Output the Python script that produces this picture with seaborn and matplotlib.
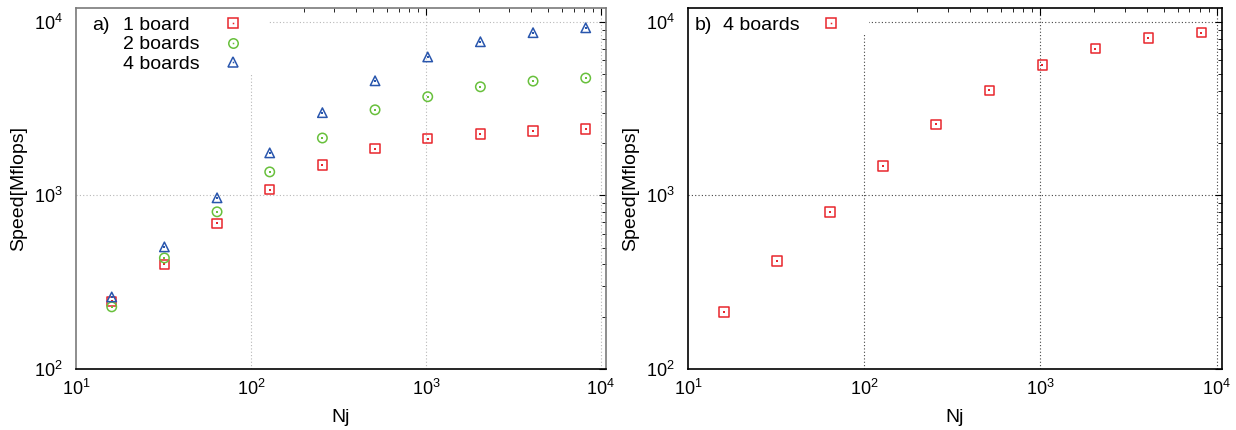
import numpy as np
import pandas as pd
import matplotlib
matplotlib.use("Agg")
import matplotlib.pyplot as plt
from matplotlib.lines import Line2D
from matplotlib.patches import Rectangle
import seaborn as sns

# Data (Nj = 16 ... 8192)
nj = [16, 32, 64, 128, 256, 512, 1024, 2048, 4096, 8192]
speed_1board = [245, 400, 690, 1080, 1500, 1855, 2120, 2260, 2350, 2410]
speed_2boards = [228, 436, 804, 1365, 2140, 3110, 3700, 4220, 4550, 4740]
speed_4boards = [260, 505, 968, 1757, 2995, 4570, 6270, 7670, 8650, 9230]
speed_b = [213, 419, 804, 1480, 2560, 4020, 5620, 7010, 8050, 8670]

labels_a = ["1 board", "2 boards", "4 boards"]
label_b = "4 boards"

RED = "#e8262c"
GREEN = "#68c03c"
BLUE = "#2956ad"

sns.set_theme(style="white")
plt.rcParams["font.family"] = ["Liberation Sans", "DejaVu Sans"]
plt.rcParams["mathtext.fontset"] = "custom"
plt.rcParams["mathtext.rm"] = "Liberation Sans"
plt.rcParams["mathtext.it"] = "Liberation Sans"
plt.rcParams["text.color"] = "black"
plt.rcParams["axes.labelcolor"] = "black"

df_a = pd.DataFrame({
    "Nj": nj * 3,
    "speed": speed_1board + speed_2boards + speed_4boards,
    "boards": np.repeat(labels_a, len(nj)),
})
df_b = pd.DataFrame({"Nj": nj, "speed": speed_b})

fig = plt.figure(figsize=(12.36, 4.3), dpi=100)
ax1 = fig.add_axes([0.0615, 0.1419, 0.4288, 0.8395])
ax2 = fig.add_axes([0.5566, 0.1419, 0.432, 0.8395])

MS = 6.8
FS = 14


def points(ax, d, color, marker):
    sns.scatterplot(data=d, x="Nj", y="speed", ax=ax, marker=marker, s=MS ** 2,
                    facecolors="none", edgecolor=color, color=color, linewidth=1.1,
                    zorder=3, legend=False)
    # gnuplot symbols carry a small dot in the middle
    sns.scatterplot(data=d, x="Nj", y="speed", ax=ax, marker="s", s=1.2,
                    color=color, linewidth=0, zorder=3, legend=False)


def handle(color, marker):
    m = Line2D([], [], marker=marker, ls="none", mfc="none", mec=color, ms=MS, mew=1.1)
    dot = Line2D([], [], marker="s", ls="none", mfc=color, mec=color, ms=1.1, mew=0)
    return (m, dot)


def key(ax, handles, labels, x, y, pad):
    leg = ax.legend(handles, labels, loc="upper left", bbox_to_anchor=(x, y),
                    frameon=False, markerfirst=False, borderpad=0, borderaxespad=0,
                    handlelength=1.0, handletextpad=pad, labelspacing=0.08, fontsize=FS)
    # keep texts left aligned and symbols in one column, like gnuplot
    r = fig.canvas.get_renderer()
    w = [t.get_window_extent(r).width for t in leg.get_texts()]
    col = leg._legend_handle_box.get_children()[0]
    for item, wi in zip(col.get_children(), w):
        item.sep += (max(w) - wi) * 72 / fig.dpi
    return leg


def style(ax, gridcolor, boxw, boxh, spinecolor):
    ax.set_xscale("log")
    ax.set_yscale("log")
    ax.set_xlim(10, 1.07e4)
    ax.set_ylim(100, 1.2e4)
    for v in [1e2, 1e3, 1e4]:
        ax.axvline(v, color=gridcolor, lw=0.8, ls=(0, (1, 2)), zorder=0.5)
    for v in [1e3, 1e4]:
        ax.axhline(v, color=gridcolor, lw=0.8, ls=(0, (1, 2)), zorder=0.5)
    # the key box hides the grid behind it
    ax.add_patch(Rectangle((0, 1 - boxh), boxw, boxh, transform=ax.transAxes,
                           facecolor="white", edgecolor="none", zorder=0.8))
    ax.tick_params(which="both", direction="in", top=True, right=True,
                   labelsize=13, colors="black")
    ax.tick_params(which="major", length=5, width=0.8)
    ax.tick_params(which="minor", length=2.8, width=0.6)
    ax.tick_params(axis="y", pad=9.5)
    ax.tick_params(axis="x", pad=7)
    for s in ["top", "left", "right"]:
        ax.spines[s].set_color(spinecolor)
        ax.spines[s].set_linewidth(1.2)
    ax.spines["bottom"].set_color("black")
    ax.spines["bottom"].set_linewidth(1.2)
    ax.set_xlabel("Nj", fontsize=FS, labelpad=7)
    ax.set_ylabel("Speed[Mflops]", fontsize=FS, labelpad=5)


# a) speed vs Nj for 1, 2, 4 boards
colors = [RED, GREEN, BLUE]
markers = ["s", "o", "^"]
for lab, c, m in zip(labels_a, colors, markers):
    points(ax1, df_a[df_a["boards"] == lab], c, m)
style(ax1, "#b8b8b8", 0.362, 0.18, "#7a7a7a")
ax1.text(0.030, 0.938, "a)", transform=ax1.transAxes, fontsize=FS, va="baseline")
key(ax1, [handle(c, m) for c, m in zip(colors, markers)], labels_a, 0.0887, 0.976, 1.2)

# b) 4 boards
points(ax2, df_b, RED, "s")
style(ax2, "#444444", 0.339, 0.07, "black")
ax2.text(0.013, 0.938, "b)", transform=ax2.transAxes, fontsize=FS, va="baseline")
key(ax2, [handle(RED, "s")], [label_b], 0.0655, 0.976, 1.1)

fig.savefig("out.png", dpi=100)
